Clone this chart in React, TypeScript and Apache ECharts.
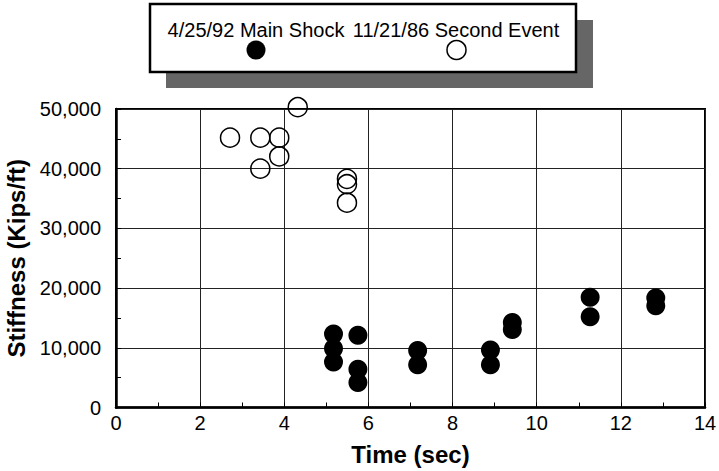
import React, { useEffect, useRef } from "react";
import * as echarts from "echarts";

const seriesNames = ["4/25/92 Main Shock", "11/21/86 Second Event"];

const mainShockTime = [5.17, 5.17, 5.17, 5.75, 5.75, 5.75, 7.17, 7.17, 8.9, 8.9, 9.42, 9.42, 11.27, 11.27, 12.83, 12.83];
const mainShockStiffness = [12300, 9870, 7610, 12100, 6400, 4200, 9550, 7150, 9650, 7150, 14250, 13050, 18450, 15200, 18350, 17050];

const secondEventTime = [2.71, 3.43, 3.88, 3.88, 3.43, 4.32, 5.49, 5.49, 5.49];
const secondEventStiffness = [45200, 45200, 45200, 42050, 40000, 50300, 38300, 37400, 34300];

const xTicks = { min: 0, max: 14, interval: 2 };
const yTicks = { min: 0, max: 50000, interval: 10000 };

const FONT = "'Liberation Sans', Arial, Helvetica, sans-serif";

export default function App() {
  const ref = useRef<HTMLDivElement>(null);

  useEffect(() => {
    if (!ref.current) return;
    const chart = echarts.init(ref.current, null, { renderer: "svg" });

    const mainData = mainShockTime.map((t, i) => [t, mainShockStiffness[i]]);
    const secondData = secondEventTime.map((t, i) => [t, secondEventStiffness[i]]);

    const option: any = {
      animation: false,
      backgroundColor: "#fff",
      grid: {
        left: 116,
        right: 14,
        top: 109,
        bottom: 63.5,
        containLabel: false,
        outerBoundsMode: "none",
        show: true,
        borderColor: "#000",
        borderWidth: 2,
        backgroundColor: "transparent",
      },
      xAxis: {
        type: "value",
        min: xTicks.min,
        max: xTicks.max,
        interval: xTicks.interval,
        name: "Time (sec)",
        nameLocation: "middle",
        nameGap: 35,
        nameTextStyle: { fontSize: 24, fontWeight: "bold", color: "#000", fontFamily: FONT },
        axisLine: { show: true, onZero: false, lineStyle: { color: "#000", width: 2.5 } },
        axisTick: { show: true, inside: true, length: 5, lineStyle: { color: "#000", width: 1 } },
        minorTick: { show: true, splitNumber: 2, length: 5, lineStyle: { color: "#000", width: 1 } },
        splitLine: { show: true, lineStyle: { color: "#222", width: 1 } },
        axisLabel: { fontSize: 20, color: "#000", margin: 5, fontFamily: FONT },
      },
      yAxis: {
        type: "value",
        min: yTicks.min,
        max: yTicks.max,
        interval: yTicks.interval,
        name: "Stiffness (Kips/ft)",
        nameLocation: "middle",
        nameGap: 84,
        nameTextStyle: { fontSize: 24, fontWeight: "bold", color: "#000", fontFamily: FONT },
        axisLine: { show: true, onZero: false, lineStyle: { color: "#000", width: 2.5 } },
        axisTick: { show: true, inside: true, length: 5, lineStyle: { color: "#000", width: 1 } },
        minorTick: { show: true, splitNumber: 2, length: 5, lineStyle: { color: "#000", width: 1 } },
        splitLine: { show: true, lineStyle: { color: "#222", width: 1 } },
        axisLabel: {
          fontSize: 20,
          color: "#000",
          margin: 15,
          fontFamily: FONT,
          formatter: (v: number) => v.toLocaleString("en-US"),
        },
      },
      series: [
        {
          name: seriesNames[0],
          type: "scatter",
          symbol: "circle",
          symbolSize: 19,
          clip: false,
          itemStyle: { color: "#000", opacity: 1 },
          data: mainData,
          z: 3,
        },
        {
          name: seriesNames[1],
          type: "scatter",
          symbol: "circle",
          symbolSize: 19,
          clip: false,
          itemStyle: { color: "rgba(0,0,0,0)", borderColor: "#000", borderWidth: 1.5, opacity: 1 },
          data: secondData,
          z: 3,
        },
      ],
      graphic: [
        {
          type: "rect",
          silent: true,
          shape: { x: 166, y: 20, width: 427, height: 68 },
          style: { fill: "#666" },
          z: 10,
        },
        {
          type: "rect",
          silent: true,
          shape: { x: 150, y: 4, width: 426, height: 68 },
          style: { fill: "#fff", stroke: "#000", lineWidth: 2.5 },
          z: 11,
        },
        {
          type: "text",
          silent: true,
          x: 256,
          y: 30,
          style: {
            text: seriesNames[0],
            fontSize: 20,
            fontFamily: FONT,
            fill: "#000",
            align: "center",
            verticalAlign: "middle",
          },
          z: 12,
        },
        {
          type: "text",
          silent: true,
          x: 456,
          y: 30,
          style: {
            text: seriesNames[1],
            fontSize: 20,
            fontFamily: FONT,
            fill: "#000",
            align: "center",
            verticalAlign: "middle",
          },
          z: 12,
        },
        {
          type: "circle",
          silent: true,
          shape: { cx: 256, cy: 50, r: 9.5 },
          style: { fill: "#000" },
          z: 12,
        },
        {
          type: "circle",
          silent: true,
          shape: { cx: 456.5, cy: 50, r: 9.5 },
          style: { fill: "none", stroke: "#000", lineWidth: 1.5 },
          z: 12,
        },
      ],
    };

    chart.setOption(option);
    return () => chart.dispose();
  }, []);

  return (
    <div
      ref={ref}
      style={{ position: "absolute", left: 0, top: 0, width: 719, height: 471 }}
    />
  );
}
